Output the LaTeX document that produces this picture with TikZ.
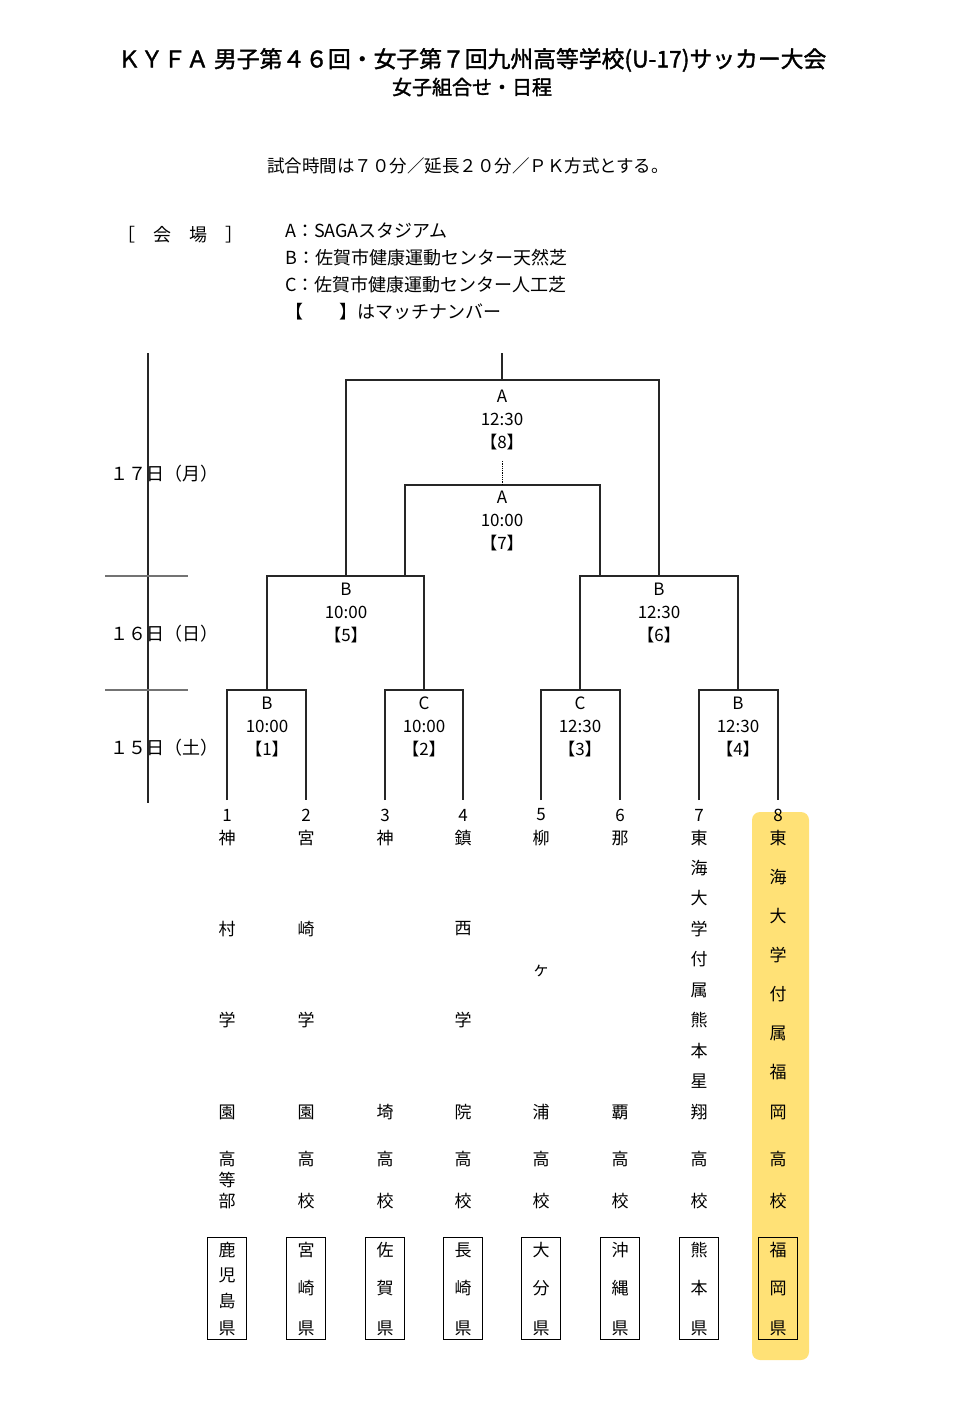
\documentclass[tikz,border=0pt]{standalone}
\usepackage{fontspec}
\setmainfont{Noto Sans CJK JP}
\newfontfamily\headfont[FakeBold=1.6]{Noto Sans CJK JP}
\usetikzlibrary{positioning}

\definecolor{marker}{RGB}{255,220,95}

\tikzset{
  line/.style={line width=1.3pt, black!85},
  daysep/.style={line width=1.1pt, black!55},
  txt/.style={inner sep=0pt, font=\fontsize{17}{23}\selectfont},
  matchlbl/.style={txt, anchor=north, align=center},
  prefbox/.style={draw, line width=1pt, minimum width=39pt, minimum height=102pt, inner sep=0pt},
}

\begin{document}
\begin{tikzpicture}[x=1pt, y=-1pt]

\fill[white] (0,0) rectangle (956,1406);
\useasboundingbox (0,0) rectangle (956,1406);

\fill[marker, opacity=0.85, rounded corners=8pt] (752,812) rectangle (809,1360);

\node[inner sep=0pt, font=\fontsize{22.8}{24}\selectfont\headfont] (title) at (472,60) {ＫＹＦＡ 男子第４６回・女子第７回九州高等学校(U-17)サッカー大会};
\node[inner sep=0pt, font=\fontsize{20}{22}\selectfont\headfont] (subtitle) at (472,87) {女子組合せ・日程};
\node[txt, font=\fontsize{17.5}{20}\selectfont] (rule) at (468,166) {試合時間は７０分／延長２０分／ＰＫ方式とする。};

\node[txt, anchor=west, font=\fontsize{18}{20}\selectfont] (venue) at (117,235) {［　会　場　］};
\node[txt, anchor=west, font=\fontsize{18}{20}\selectfont] (vA) at (285,231) {A：SAGAスタジアム};
\node[txt, anchor=west, font=\fontsize{18}{20}\selectfont] (vB) at (285,258) {B：佐賀市健康運動センター天然芝};
\node[txt, anchor=west, font=\fontsize{18}{20}\selectfont] (vC) at (285,285) {C：佐賀市健康運動センター人工芝};
\node[txt, anchor=west, font=\fontsize{18}{20}\selectfont] (vM) at (285,312) {【　　】はマッチナンバー};

\coordinate (axtop) at (148,353);
\coordinate (axbot) at (148,803);
\draw[line] (axtop) -- (axbot);
\coordinate (sepA) at (105,576);
\coordinate (sepB) at (188,576);
\coordinate (sepC) at (105,690);
\coordinate (sepD) at (188,690);
\draw[daysep] (sepA) -- (sepB);
\draw[daysep] (sepC) -- (sepD);
\node[txt, anchor=west, font=\fontsize{18}{20}\selectfont] (day17) at (110,474) {１７日（月）};
\node[txt, anchor=west, font=\fontsize{18}{20}\selectfont] (day16) at (110,634) {１６日（日）};
\node[txt, anchor=west, font=\fontsize{18}{20}\selectfont] (day15) at (110,748) {１５日（土）};

\foreach \k/\x/\nm/\pf in {
  1/227/{神/838,村/929,学/1020,園/1112,高/1159,等/1180,部/1201}/{鹿/1250,児/1275,島/1301,県/1328},
  2/306/{宮/838,崎/929,学/1020,園/1112,高/1159,校/1201}/{宮/1250,崎/1288,県/1328},
  3/385/{神/838,埼/1112,高/1159,校/1201}/{佐/1250,賀/1288,県/1328},
  4/463/{鎮/838,西/929,学/1020,院/1112,高/1159,校/1201}/{長/1250,崎/1288,県/1328},
  5/541/{柳/838,ヶ/971,浦/1112,高/1159,校/1201}/{大/1250,分/1288,県/1328},
  6/620/{那/838,覇/1112,高/1159,校/1201}/{沖/1250,縄/1288,県/1328},
  7/699/{東/838,海/868,大/898,学/929,付/959,属/990,熊/1020,本/1051,星/1081,翔/1112,高/1159,校/1201}/{熊/1250,本/1288,県/1328},
  8/778/{東/838,海/877,大/916,学/955,付/994,属/1033,福/1072,岡/1112,高/1159,校/1201}/{福/1250,岡/1288,県/1328}} {
  \coordinate (t\k) at (\x,800);
  \node[txt] (num\k) at (\x,815) {\k};
  \foreach \c/\y in \nm {
    \node[txt] (n\k-\y) at (\x,\y) {\c};
  }
  \node[prefbox] (p\k) at (\x,1288.5) {};
  \foreach \c/\y in \pf {
    \node[txt] (p\k-\y) at (\x,\y) {\c};
  }
}

\coordinate (m1) at (267,690);
\coordinate (m2) at (424,690);
\coordinate (m3) at (580,690);
\coordinate (m4) at (738,690);
\coordinate (m5) at (346,576);
\coordinate (m6) at (659,576);
\coordinate (s5) at (405,576);
\coordinate (s6) at (600,576);
\coordinate (m7) at (502,485);
\coordinate (m8) at (502,380);
\coordinate (top) at (502,353);
\coordinate (d8) at (502,460);

\draw[line] (t1) |- (m1) -| (t2);
\draw[line] (t3) |- (m2) -| (t4);
\draw[line] (t5) |- (m3) -| (t6);
\draw[line] (t7) |- (m4) -| (t8);
\draw[line] (m1) |- (m5) -| (m2);
\draw[line] (m3) |- (m6) -| (m4);
\draw[line] (m5) |- (m8) -| (m6);
\draw[line] (s5) |- (m7) -| (s6);
\draw[line] (m8) -- (top);
\draw[line width=0.8pt, densely dotted] (m7) -- (d8);

\node[matchlbl] (l1) at (267,697) {B\\10:00\\【1】};
\node[matchlbl] (l2) at (424,697) {C\\10:00\\【2】};
\node[matchlbl] (l3) at (580,697) {C\\12:30\\【3】};
\node[matchlbl] (l4) at (738,697) {B\\12:30\\【4】};
\node[matchlbl] (l5) at (346,583) {B\\10:00\\【5】};
\node[matchlbl] (l6) at (659,583) {B\\12:30\\【6】};
\node[matchlbl] (l7) at (502,491) {A\\10:00\\【7】};
\node[matchlbl] (l8) at (502,390) {A\\12:30\\【8】};

\end{tikzpicture}
\end{document}
